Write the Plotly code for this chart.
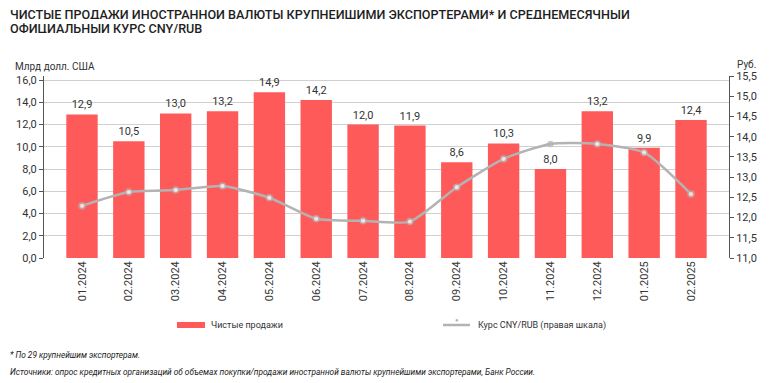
import plotly.graph_objects as go

months = ["01.2024", "02.2024", "03.2024", "04.2024", "05.2024", "06.2024", "07.2024",
          "08.2024", "09.2024", "10.2024", "11.2024", "12.2024", "01.2025", "02.2025"]
net_sales = [12.9, 10.5, 13.0, 13.2, 14.9, 14.2, 12.0, 11.9, 8.6, 10.3, 8.0, 13.2, 9.9, 12.4]
cny_rub = [12.29, 12.63, 12.68, 12.78, 12.49, 11.97, 11.92, 11.90, 12.75, 13.45, 13.82, 13.82, 13.61, 12.58]

left_ticks = [0, 2, 4, 6, 8, 10, 12, 14, 16]
right_ticks = [11.0, 11.5, 12.0, 12.5, 13.0, 13.5, 14.0, 14.5, 15.0, 15.5]

title_lines = ["ЧИСТЫЕ ПРОДАЖИ ИНОСТРАННОЙ ВАЛЮТЫ КРУПНЕЙШИМИ ЭКСПОРТЕРАМИ* И СРЕДНЕМЕСЯЧНЫЙ",
               "ОФИЦИАЛЬНЫЙ КУРС CNY/RUB"]

# The page body has an 8px default margin; the figure is sized to fit the window.
OFF = 8
W, H = 772 - OFF, 383 - OFF
# plot area in reference-window pixels
RL, RR, RT, RB = 44, 729, 76, 258
L, R, T, B = RL - OFF, RR - OFF, RT - OFF, RB - OFF

def px(x):
    return (x - RL) / (RR - RL)

def py(y):
    return (RB - y) / (RB - RT)

BAR = "#FF5A5A"
LINE = "#B3B3B3"
TXT = "#333333"
FONT = "Roboto"

marker_fill = ["white"] * len(months)
marker_fill[10] = LINE
marker_size = [6] * len(months)
marker_size[10] = 5

fig = go.Figure()
fig.add_trace(go.Bar(
    x=months, y=net_sales, name="Чистые продажи",
    marker=dict(color=BAR, line=dict(width=0)), width=0.67,
    texttemplate="%{y:.1f}", textposition="outside",
    textfont=dict(size=11, color=TXT, family=FONT), cliponaxis=False,
    showlegend=False,
))
fig.add_trace(go.Scatter(
    x=months, y=cny_rub, name="Курс CNY/RUB (правая шкала)", yaxis="y2",
    mode="lines+markers", line=dict(color=LINE, width=2.5, shape="spline", smoothing=0.6),
    marker=dict(size=marker_size, color=marker_fill, line=dict(color=LINE, width=1.6)),
    showlegend=False,
))

fig.update_layout(
    width=W, height=H,
    margin=dict(l=L, r=W - R, t=T, b=H - B, autoexpand=False),
    paper_bgcolor="white", plot_bgcolor="white",
    separators=", ",
    font=dict(family=FONT, size=11, color=TXT),
    xaxis=dict(
        type="category", tickangle=-90, tickfont=dict(size=11, color=TXT),
        showgrid=False, showline=False, ticks="", ticklen=0,
    ),
    yaxis=dict(
        range=[0, 16.36], tickvals=left_ticks, tickformat=".1f",
        showgrid=True, gridcolor="#D0D0D0", gridwidth=1,
        showline=True, linecolor="#555555", linewidth=1,
        ticks="outside", ticklen=4, tickcolor="#555555",
        tickfont=dict(size=11, color=TXT), zeroline=False,
    ),
    yaxis2=dict(
        overlaying="y", side="right", range=[11, 15.5], tickvals=right_ticks,
        tickformat=".1f", showgrid=False,
        showline=True, linecolor="#555555", linewidth=1,
        ticks="outside", ticklen=4, tickcolor="#555555",
        tickfont=dict(size=11, color=TXT), zeroline=False,
    ),
    showlegend=False,
)

NOTE_FONT = "Roboto"
annotations = [
    dict(text=title_lines[0], x=px(8), y=py(13.5), xanchor="left", yanchor="middle", align="left",
         height=10, valign="middle",
         font=dict(size=12.6, color="#1E1E1E", family=FONT, weight=500)),
    dict(text=title_lines[1], x=px(8), y=py(28), xanchor="left", yanchor="middle", align="left",
         height=10, valign="middle",
         font=dict(size=12.6, color="#1E1E1E", family=FONT, weight=500)),
    dict(text="Млрд долл. США", x=px(13), y=py(67), xanchor="left", yanchor="middle",
         font=dict(size=10, color=TXT, family=FONT)),
    dict(text="Руб.", x=px(735), y=py(64), xanchor="left", yanchor="middle",
         font=dict(size=10, color=TXT, family=FONT)),
    dict(text="Чистые продажи", x=px(209), y=py(325), xanchor="left", yanchor="middle",
         font=dict(size=9, color=TXT, family=FONT)),
    dict(text="Курс CNY/RUB (правая шкала)", x=px(476), y=py(325), xanchor="left", yanchor="middle",
         font=dict(size=9, color=TXT, family=FONT)),
    dict(text="<i>* По 29 крупнейшим экспортерам.</i>", x=px(8), y=py(355), xanchor="left", yanchor="middle",
         font=dict(size=8.3, color="#222222", family=NOTE_FONT)),
    dict(text="<i>Источники: опрос кредитных организаций об объемах покупки/продажи иностранной валюты крупнейшими экспортерами, Банк России.</i>",
         x=px(8), y=py(372), xanchor="left", yanchor="middle",
         font=dict(size=8.3, color="#222222", family=NOTE_FONT)),
]
for a in annotations:
    a.update(xref="paper", yref="paper", showarrow=False)
fig.update_layout(annotations=annotations)

shapes = [
    dict(type="rect", x0=px(177), x1=px(205), y0=py(328), y1=py(322),
         fillcolor=BAR, line=dict(width=0)),
    dict(type="line", x0=px(443), x1=px(470), y0=py(325), y1=py(325),
         line=dict(color=LINE, width=2.5)),
]
for s in shapes:
    s.update(xref="paper", yref="paper")
fig.update_layout(shapes=shapes)
fig.add_annotation(x=px(456.5), y=py(325), xref="paper", yref="paper", showarrow=False,
                   text="●", font=dict(size=6, color=LINE))

fig.write_html("out.html")
